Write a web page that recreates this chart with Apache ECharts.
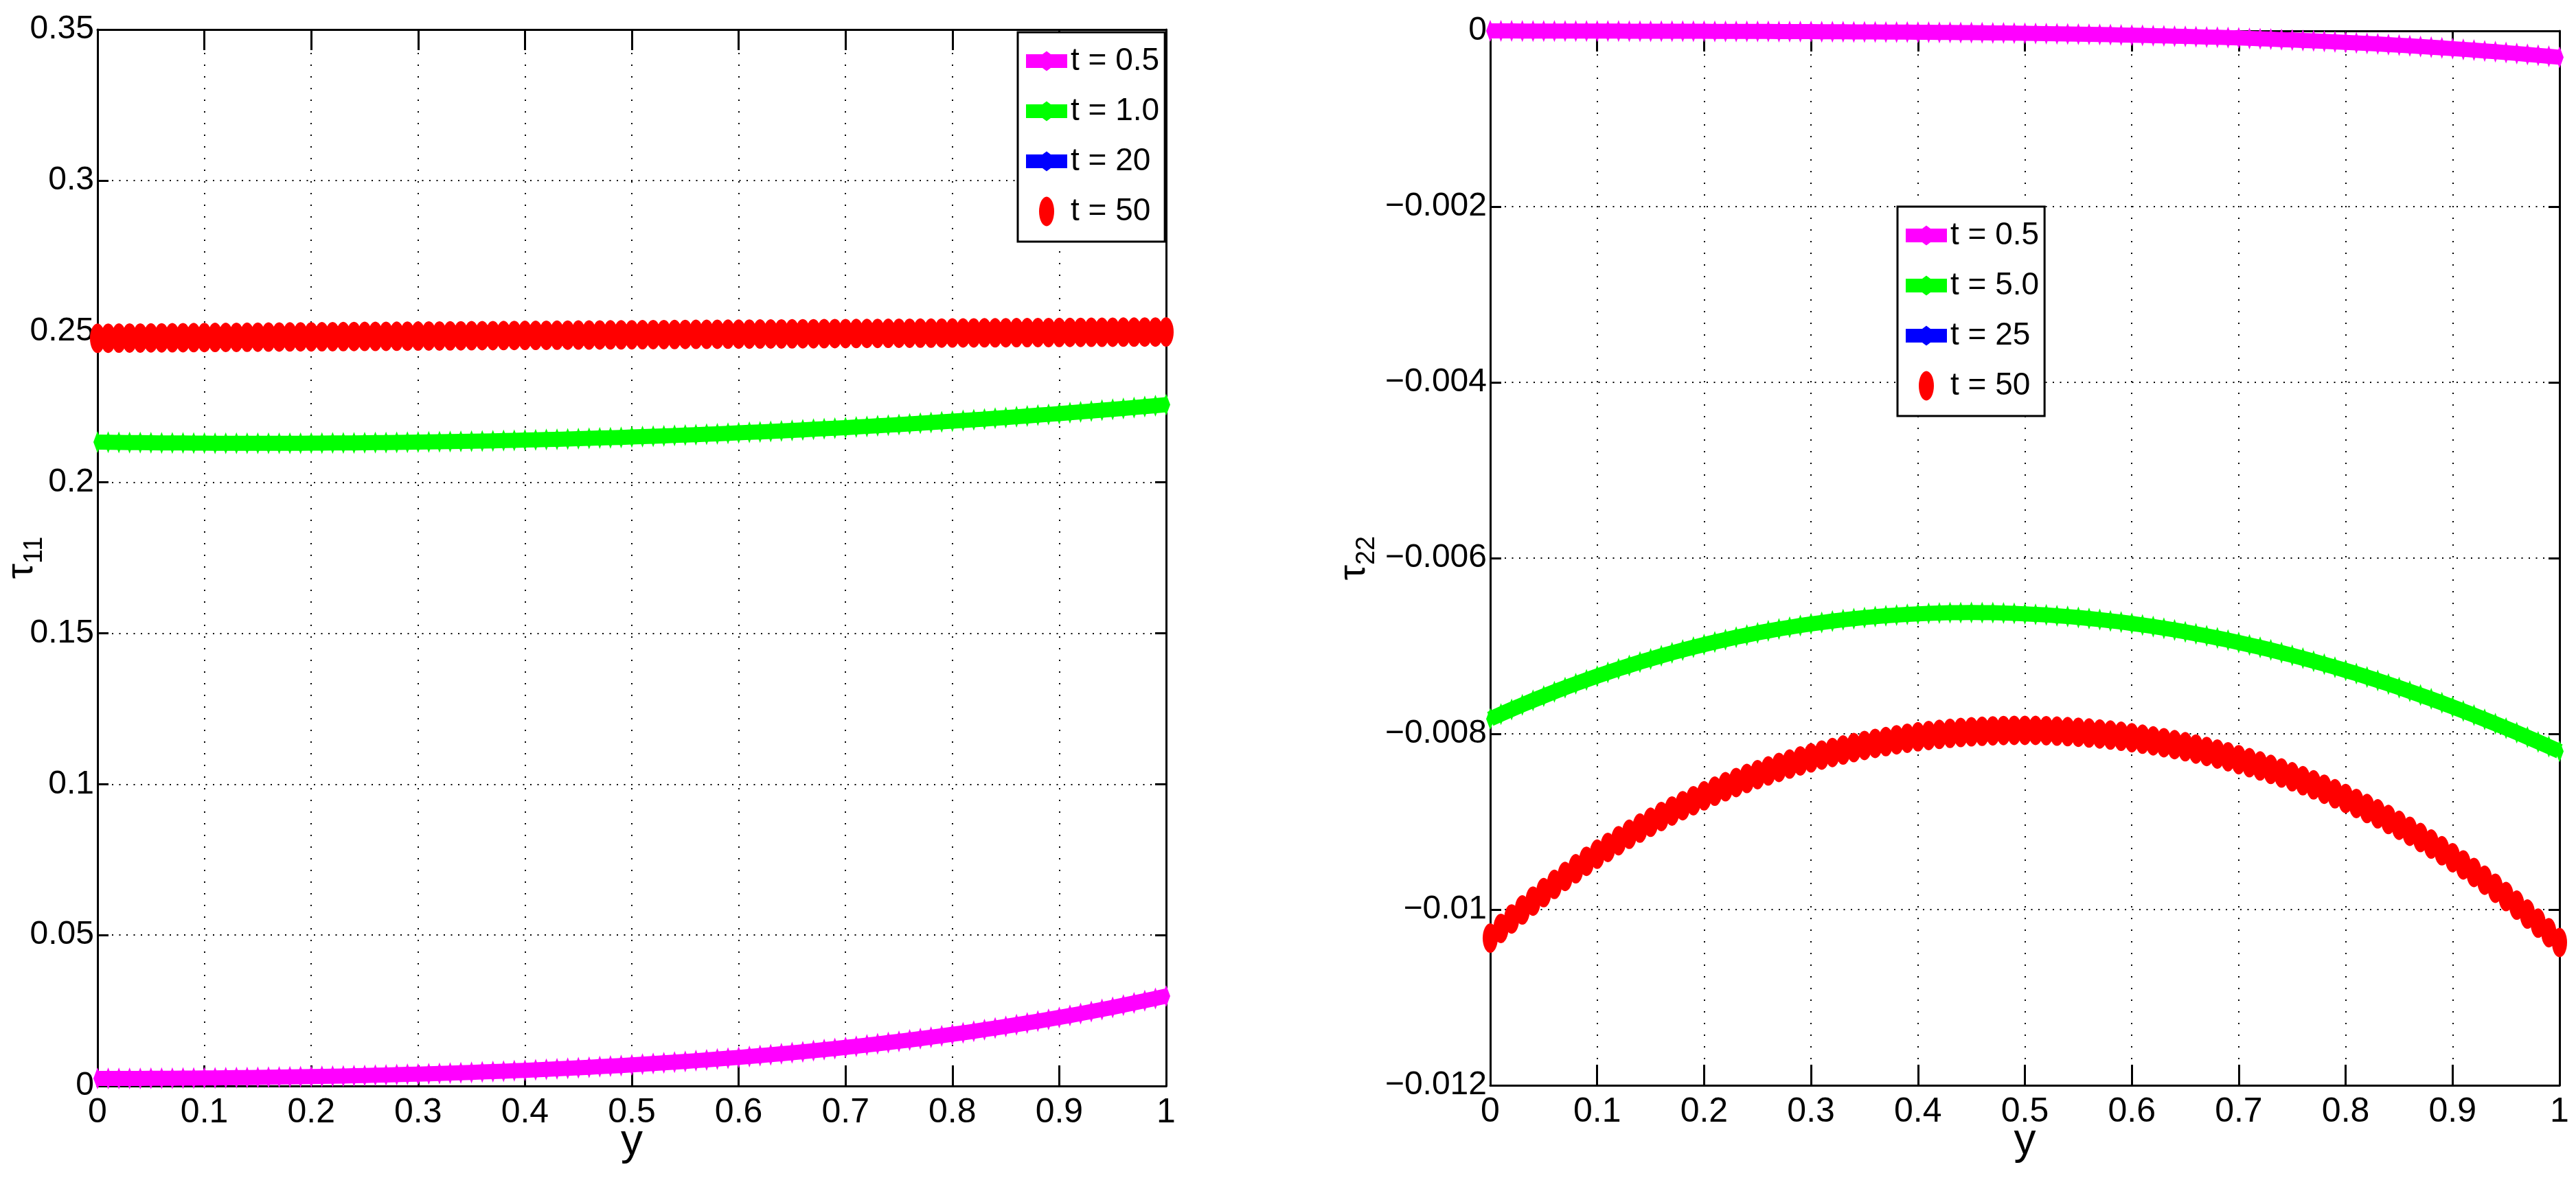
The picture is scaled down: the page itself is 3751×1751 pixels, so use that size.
<!DOCTYPE html>
<html>
<head>
<meta charset="utf-8">
<script src="https://cdn.jsdelivr.net/npm/echarts@6/dist/echarts.min.js"></script>
<style>
html,body{margin:0;padding:0;background:#ffffff;}
#chart{width:3751px;height:1751px;}
</style>
</head>
<body>
<div id="chart"></div>
<script>
// ---------------- data ----------------
const yPos = [
0.00,0.01,0.02,0.03,0.04,0.05,0.06,0.07,0.08,0.09,
0.10,0.11,0.12,0.13,0.14,0.15,0.16,0.17,0.18,0.19,
0.20,0.21,0.22,0.23,0.24,0.25,0.26,0.27,0.28,0.29,
0.30,0.31,0.32,0.33,0.34,0.35,0.36,0.37,0.38,0.39,
0.40,0.41,0.42,0.43,0.44,0.45,0.46,0.47,0.48,0.49,
0.50,0.51,0.52,0.53,0.54,0.55,0.56,0.57,0.58,0.59,
0.60,0.61,0.62,0.63,0.64,0.65,0.66,0.67,0.68,0.69,
0.70,0.71,0.72,0.73,0.74,0.75,0.76,0.77,0.78,0.79,
0.80,0.81,0.82,0.83,0.84,0.85,0.86,0.87,0.88,0.89,
0.90,0.91,0.92,0.93,0.94,0.95,0.96,0.97,0.98,0.99,
1.00];

// left panel: tau_11
const tau11_t05 = [
0.00250,0.00250,0.00251,0.00251,0.00252,0.00254,0.00255,0.00257,0.00260,0.00262,
0.00265,0.00268,0.00272,0.00276,0.00280,0.00284,0.00289,0.00294,0.00300,0.00305,
0.00312,0.00318,0.00325,0.00332,0.00340,0.00348,0.00356,0.00365,0.00374,0.00384,
0.00394,0.00405,0.00416,0.00427,0.00439,0.00451,0.00464,0.00477,0.00491,0.00505,
0.00520,0.00536,0.00551,0.00568,0.00585,0.00603,0.00621,0.00640,0.00659,0.00679,
0.00700,0.00721,0.00744,0.00766,0.00790,0.00814,0.00839,0.00865,0.00892,0.00919,
0.00947,0.00976,0.01006,0.01037,0.01068,0.01101,0.01134,0.01169,0.01204,0.01240,
0.01278,0.01316,0.01356,0.01396,0.01438,0.01480,0.01524,0.01569,0.01616,0.01663,
0.01712,0.01761,0.01812,0.01865,0.01919,0.01974,0.02030,0.02088,0.02148,0.02208,
0.02271,0.02334,0.02399,0.02466,0.02535,0.02605,0.02676,0.02750,0.02825,0.02901,
0.02980];

const tau11_t10 = [
0.21330,0.21325,0.21321,0.21317,0.21313,0.21309,0.21306,0.21303,0.21301,0.21299,
0.21297,0.21295,0.21294,0.21293,0.21293,0.21293,0.21293,0.21293,0.21294,0.21295,
0.21297,0.21299,0.21301,0.21303,0.21306,0.21309,0.21313,0.21317,0.21321,0.21325,
0.21330,0.21336,0.21341,0.21347,0.21353,0.21360,0.21367,0.21374,0.21382,0.21390,
0.21398,0.21407,0.21415,0.21425,0.21434,0.21445,0.21455,0.21466,0.21477,0.21488,
0.21500,0.21512,0.21525,0.21538,0.21551,0.21564,0.21578,0.21593,0.21607,0.21622,
0.21638,0.21654,0.21670,0.21686,0.21703,0.21720,0.21738,0.21756,0.21774,0.21793,
0.21812,0.21832,0.21852,0.21872,0.21892,0.21914,0.21935,0.21957,0.21979,0.22002,
0.22025,0.22048,0.22072,0.22096,0.22121,0.22146,0.22171,0.22197,0.22223,0.22250,
0.22277,0.22304,0.22332,0.22360,0.22389,0.22418,0.22447,0.22477,0.22508,0.22538,
0.22570];

const tau11_t50 = [
0.24770,0.24773,0.24775,0.24778,0.24780,0.24783,0.24785,0.24788,0.24790,0.24793,
0.24796,0.24798,0.24800,0.24803,0.24805,0.24808,0.24810,0.24813,0.24815,0.24818,
0.24820,0.24822,0.24825,0.24827,0.24830,0.24832,0.24834,0.24837,0.24839,0.24841,
0.24844,0.24846,0.24848,0.24850,0.24853,0.24855,0.24857,0.24859,0.24862,0.24864,
0.24866,0.24868,0.24870,0.24873,0.24875,0.24877,0.24879,0.24881,0.24883,0.24885,
0.24888,0.24890,0.24892,0.24894,0.24896,0.24898,0.24900,0.24902,0.24904,0.24906,
0.24908,0.24910,0.24912,0.24914,0.24916,0.24918,0.24920,0.24922,0.24924,0.24926,
0.24928,0.24929,0.24931,0.24933,0.24935,0.24937,0.24939,0.24941,0.24942,0.24944,
0.24946,0.24948,0.24950,0.24951,0.24953,0.24955,0.24957,0.24958,0.24960,0.24962,
0.24963,0.24965,0.24967,0.24969,0.24970,0.24972,0.24974,0.24975,0.24977,0.24978,
0.24980];

// t = 20 lies exactly under t = 50 in the reference
const tau11_t20 = tau11_t50.slice();

// right panel: tau_22
const tau22_t05 = [
0,0,0,-0.000001,-0.000001,-0.000001,-0.000001,-0.000001,-0.000002,-0.000002,
-0.000002,-0.000002,-0.000002,-0.000003,-0.000003,-0.000003,-0.000003,-0.000004,-0.000004,-0.000004,
-0.000004,-0.000005,-0.000005,-0.000005,-0.000006,-0.000006,-0.000006,-0.000007,-0.000007,-0.000008,
-0.000008,-0.000009,-0.000009,-0.000010,-0.000011,-0.000011,-0.000012,-0.000013,-0.000013,-0.000014,
-0.000015,-0.000016,-0.000017,-0.000018,-0.000019,-0.000020,-0.000022,-0.000023,-0.000024,-0.000026,
-0.000028,-0.000029,-0.000031,-0.000033,-0.000035,-0.000037,-0.000039,-0.000041,-0.000043,-0.000046,
-0.000048,-0.000051,-0.000054,-0.000057,-0.000060,-0.000063,-0.000066,-0.000070,-0.000073,-0.000077,
-0.000081,-0.000085,-0.000090,-0.000094,-0.000099,-0.000104,-0.000109,-0.000114,-0.000119,-0.000125,
-0.000131,-0.000137,-0.000143,-0.000149,-0.000156,-0.000163,-0.000170,-0.000178,-0.000186,-0.000193,
-0.000202,-0.000210,-0.000219,-0.000228,-0.000237,-0.000247,-0.000257,-0.000267,-0.000278,-0.000289,
-0.000300];

const tau22_t5 = [
-0.007830,-0.007775,-0.007722,-0.007670,-0.007619,-0.007570,-0.007522,-0.007475,-0.007430,-0.007386,
-0.007343,-0.007301,-0.007261,-0.007222,-0.007184,-0.007148,-0.007112,-0.007078,-0.007046,-0.007014,
-0.006984,-0.006955,-0.006927,-0.006901,-0.006876,-0.006851,-0.006829,-0.006807,-0.006787,-0.006767,
-0.006749,-0.006733,-0.006717,-0.006702,-0.006689,-0.006677,-0.006666,-0.006656,-0.006648,-0.006640,
-0.006634,-0.006629,-0.006625,-0.006622,-0.006621,-0.006620,-0.006621,-0.006622,-0.006625,-0.006629,
-0.006634,-0.006640,-0.006647,-0.006656,-0.006665,-0.006676,-0.006687,-0.006700,-0.006714,-0.006728,
-0.006744,-0.006761,-0.006779,-0.006798,-0.006818,-0.006839,-0.006862,-0.006885,-0.006909,-0.006934,
-0.006961,-0.006988,-0.007016,-0.007045,-0.007076,-0.007107,-0.007139,-0.007173,-0.007207,-0.007242,
-0.007278,-0.007315,-0.007354,-0.007393,-0.007433,-0.007474,-0.007516,-0.007559,-0.007602,-0.007647,
-0.007693,-0.007740,-0.007787,-0.007836,-0.007885,-0.007935,-0.007986,-0.008038,-0.008091,-0.008145,
-0.008200];

const tau22_t50 = [
-0.010325,-0.010214,-0.010107,-0.010004,-0.009904,-0.009807,-0.009713,-0.009623,-0.009536,-0.009451,
-0.009370,-0.009292,-0.009216,-0.009143,-0.009073,-0.009006,-0.008941,-0.008878,-0.008818,-0.008761,
-0.008706,-0.008653,-0.008602,-0.008554,-0.008508,-0.008464,-0.008422,-0.008382,-0.008344,-0.008308,
-0.008274,-0.008242,-0.008212,-0.008184,-0.008157,-0.008132,-0.008109,-0.008088,-0.008068,-0.008050,
-0.008034,-0.008019,-0.008006,-0.007995,-0.007985,-0.007977,-0.007971,-0.007966,-0.007962,-0.007960,
-0.007960,-0.007961,-0.007964,-0.007969,-0.007975,-0.007982,-0.007991,-0.008002,-0.008014,-0.008028,
-0.008044,-0.008061,-0.008080,-0.008101,-0.008123,-0.008147,-0.008173,-0.008201,-0.008230,-0.008261,
-0.008294,-0.008329,-0.008366,-0.008405,-0.008446,-0.008489,-0.008534,-0.008581,-0.008630,-0.008682,
-0.008736,-0.008792,-0.008850,-0.008911,-0.008975,-0.009041,-0.009109,-0.009180,-0.009254,-0.009331,
-0.009410,-0.009492,-0.009578,-0.009666,-0.009757,-0.009852,-0.009950,-0.010051,-0.010155,-0.010263,
-0.010375];

// t = 25 lies exactly under t = 50 in the reference
const tau22_t25 = tau22_t50.slice();

const leftNames  = ['t = 0.5', 't = 1.0', 't = 20', 't = 50'];
const rightNames = ['t = 0.5', 't = 5.0', 't = 25', 't = 50'];
const xTicks = {min: 0, max: 1, interval: 0.1};
const leftYTicks = {min: 0, max: 0.35, interval: 0.05};
const rightYTicks = {min: -0.012, max: 0, interval: 0.002};

// ---------------- styling ----------------
const FONT = '"Liberation Sans", Arial, sans-serif';
const MAGENTA = '#ff00ff', GREEN = '#00ff00', BLUE = '#0000ff', RED = '#ff0000';

const pts = vals => yPos.map((x, i) => [x, vals[i]]);
const minusFmt = v => v === 0 ? '0' : '\u2212' + String(+Math.abs(v).toFixed(4));

const bandIcon = 'path://M30,0L30.01,0M30,43L30.01,43M0,11.5L24,11.5L30,7L36,11.5L60,11.5L60,31.5L36,31.5L30,36L24,31.5L0,31.5Z';
const ovalIcon = 'path://M30,0L30.01,0M30,43L30.01,43M0,21.5L0.01,21.5M60,21.5L59.99,21.5M19,21.5A11,21.5,0,1,0,41,21.5A11,21.5,0,1,0,19,21.5Z';

function bottomX(grid) {
  return {
    gridIndex: grid, type: 'value', position: 'bottom',
    min: xTicks.min, max: xTicks.max, interval: xTicks.interval,
    axisLine: {onZero: false, lineStyle: {color: '#000', width: 3}},
    axisTick: {inside: true, length: 30, lineStyle: {color: '#000', width: 3}},
    axisLabel: {color: '#000', fontFamily: FONT, fontSize: 50, margin: 14},
    splitLine: {show: true, lineStyle: {color: '#000', width: 2, type: [2, 15]}},
    name: 'y', nameLocation: 'middle', nameGap: 50, nameMoveOverlap: false,
    nameTextStyle: {color: '#000', fontFamily: FONT, fontSize: 64, verticalAlign: 'top'}
  };
}
function topX(grid) {
  return {
    gridIndex: grid, type: 'value', position: 'top',
    min: xTicks.min, max: xTicks.max, interval: xTicks.interval,
    axisLine: {onZero: false, lineStyle: {color: '#000', width: 3}},
    axisTick: {inside: true, length: 30, lineStyle: {color: '#000', width: 3}},
    axisLabel: {show: false}, splitLine: {show: false}
  };
}
function leftY(grid, ticks, name, gap, fmt) {
  return {
    gridIndex: grid, type: 'value', position: 'left',
    min: ticks.min, max: ticks.max, interval: ticks.interval,
    axisLine: {onZero: false, lineStyle: {color: '#000', width: 3}},
    axisTick: {inside: true, length: 16, lineStyle: {color: '#000', width: 3}},
    axisLabel: {color: '#000', fontFamily: FONT, fontSize: 48, margin: 5, formatter: fmt},
    splitLine: {show: true, lineStyle: {color: '#000', width: 2, type: [2, 8.5]}},
    name: name, nameLocation: 'middle', nameGap: gap, nameMoveOverlap: false,
    nameTextStyle: {
      color: '#000', fontFamily: FONT,
      rich: {
        t: {fontSize: 56, fontFamily: FONT, color: '#000', padding: [0, 0, 10, 0], verticalAlign: 'bottom'},
        s: {fontSize: 38, fontFamily: FONT, color: '#000', verticalAlign: 'bottom'}
      }
    }
  };
}
function rightY(grid, ticks) {
  return {
    gridIndex: grid, type: 'value', position: 'right',
    min: ticks.min, max: ticks.max, interval: ticks.interval,
    axisLine: {onZero: false, lineStyle: {color: '#000', width: 3}},
    axisTick: {inside: true, length: 16, lineStyle: {color: '#000', width: 3}},
    axisLabel: {show: false}, splitLine: {show: false}
  };
}
function bandSeries(name, xi, yi, vals, color) {
  return {
    type: 'line', name: name, xAxisIndex: xi, yAxisIndex: yi, data: pts(vals),
    symbol: 'diamond', symbolSize: [12, 32], showSymbol: true, showAllSymbol: true,
    lineStyle: {color: color, width: 22, join: 'round'},
    itemStyle: {color: color, borderWidth: 0},
    clip: false, silent: true, animation: false
  };
}
function ovalSeries(name, xi, yi, vals, color) {
  return {
    type: 'line', name: name, xAxisIndex: xi, yAxisIndex: yi, data: pts(vals),
    symbol: 'circle', symbolSize: [22, 43], showSymbol: true, showAllSymbol: true,
    lineStyle: {color: color, width: 0},
    itemStyle: {color: color, borderWidth: 0},
    clip: false, silent: true, animation: false
  };
}
function legendBox(left, top, names) {
  return {
    orient: 'vertical', left: left, top: top,
    backgroundColor: '#fff', borderColor: '#000', borderWidth: 3,
    padding: [19, 8, 21, 12],
    itemWidth: 60, itemHeight: 43, itemGap: 27,
    symbolKeepAspect: false, selectedMode: false,
    textStyle: {color: '#000', fontFamily: FONT, fontSize: 46},
    data: [
      {name: names[0], icon: bandIcon},
      {name: names[1], icon: bandIcon},
      {name: names[2], icon: bandIcon},
      {name: names[3], icon: ovalIcon}
    ]
  };
}

const chart = echarts.init(document.getElementById('chart'), null, {renderer: 'canvas'});
chart.setOption({
  backgroundColor: '#ffffff',
  animation: false,
  grid: [
    {left: 142, top: 43, width: 1556, height: 1539},
    {left: 2170, top: 45, width: 1557, height: 1536}
  ],
  xAxis: [bottomX(0), topX(0), bottomX(1), topX(1)],
  yAxis: [
    leftY(0, leftYTicks, '{t|τ}{s|11}', 72, null),
    rightY(0, leftYTicks),
    leftY(1, rightYTicks, '{t|τ}{s|22}', 160, minusFmt),
    rightY(1, rightYTicks)
  ],
  legend: [legendBox(1482, 47, leftNames), legendBox(2763, 301, rightNames)],
  series: [
    bandSeries(leftNames[0], 0, 0, tau11_t05, MAGENTA),
    bandSeries(leftNames[1], 0, 0, tau11_t10, GREEN),
    bandSeries(leftNames[2], 0, 0, tau11_t20, BLUE),
    ovalSeries(leftNames[3], 0, 0, tau11_t50, RED),
    bandSeries(rightNames[0], 2, 2, tau22_t05, MAGENTA),
    bandSeries(rightNames[1], 2, 2, tau22_t5, GREEN),
    bandSeries(rightNames[2], 2, 2, tau22_t25, BLUE),
    ovalSeries(rightNames[3], 2, 2, tau22_t50, RED)
  ]
});
</script>
</body>
</html>
